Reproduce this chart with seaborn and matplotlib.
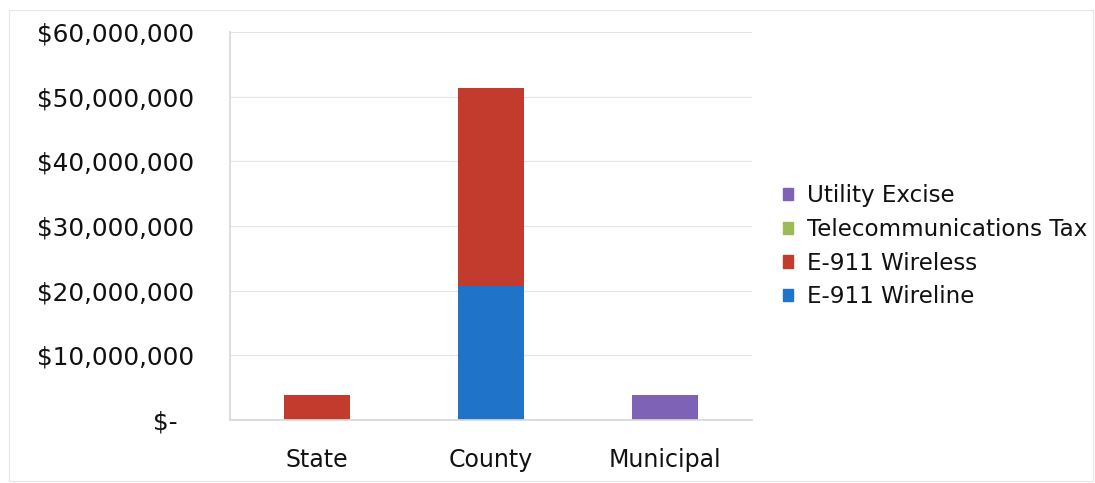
import matplotlib
matplotlib.use("Agg")
import matplotlib.pyplot as plt
import matplotlib.patches as mpatches
import seaborn as sns
import pandas as pd
import numpy as np

categories = ["State", "County", "Municipal"]
e911_wireline = [0, 20.7e6, 0]
e911_wireless = [3.9e6, 30.6e6, 0]
telecom_tax = [0, 0, 0]
utility_excise = [0, 0, 3.9e6]
yticks = [0, 10e6, 20e6, 30e6, 40e6, 50e6, 60e6]
ytick_labels = ["$-  ", "$10,000,000", "$20,000,000", "$30,000,000",
                "$40,000,000", "$50,000,000", "$60,000,000"]

series = [("E-911 Wireline", e911_wireline, "#1F74C9"),
          ("E-911 Wireless", e911_wireless, "#C23B2C"),
          ("Telecommunications Tax", telecom_tax, "#9BBB59"),
          ("Utility Excise", utility_excise, "#7E62B6")]

sns.set_theme(style="white")
plt.rcParams["font.family"] = ["DejaVu Sans"]
plt.rcParams["text.color"] = "#111111"

fig = plt.figure(figsize=(10.95, 4.83), dpi=100)
ax = fig.add_axes([0.210, 0.130, 0.477, 0.804])

cum = np.zeros(len(categories))
cums = []
for name, vals, col in series:
    cum = cum + np.array(vals, dtype=float)
    cums.append((name, cum.copy(), col))

for name, c, col in reversed(cums):
    df = pd.DataFrame({"cat": categories, "val": c})
    sns.barplot(data=df, x="cat", y="val", color=col, width=0.38,
                saturation=1, ax=ax, linewidth=0, order=categories)

ax.set_ylim(0, 60e6)
ax.set_yticks(yticks)
ax.set_yticklabels(ytick_labels, fontsize=17.8, color="#111111")
ax.set_xlabel("")
ax.set_ylabel("")
ax.tick_params(axis="x", labelsize=17, labelcolor="#111111", pad=20, length=0)
ax.tick_params(axis="y", pad=26, length=0)
ax.yaxis.grid(True, color="#E4E4E4", linewidth=0.8)
ax.set_axisbelow(True)
for s in ["top", "right"]:
    ax.spines[s].set_visible(False)
ax.spines["left"].set_color("#D8D8D8")
ax.spines["bottom"].set_color("#D8D8D8")
ax.set_xlim(-0.5, 2.5)

handles = [mpatches.Patch(color=col, label=name) for name, vals, col in reversed(series)]
fig.legend(handles=handles, loc="center left", bbox_to_anchor=(0.715, 0.49),
           frameon=False, fontsize=16.6, handlelength=0.45, handleheight=0.45,
           handletextpad=0.6, labelspacing=0.46, borderaxespad=0, borderpad=0)

fig.patches.append(mpatches.Rectangle((0.008, 0.005), 0.99, 0.975, transform=fig.transFigure,
                                      fill=False, edgecolor="#E6E6E6", linewidth=0.8))

fig.savefig("out.png", dpi=100)
